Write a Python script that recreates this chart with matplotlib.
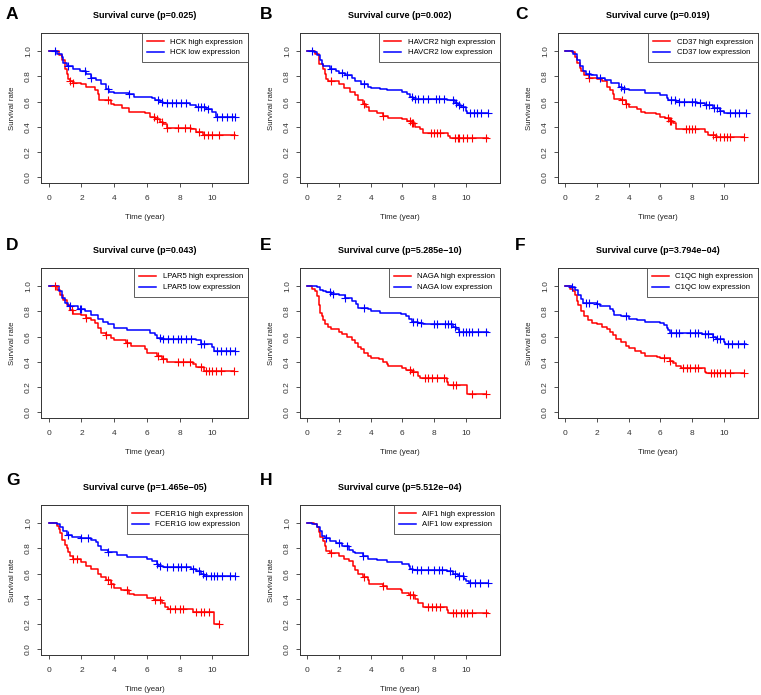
import numpy as np
import matplotlib.pyplot as plt

plt.rcParams['font.family'] = ['Liberation Sans', 'DejaVu Sans']

# ---- data ----
genes = ["HCK", "HAVCR2", "CD37", "LPAR5", "NAGA", "C1QC", "FCER1G", "AIF1"]
letters = ["A", "B", "C", "D", "E", "F", "G", "H"]
pvals = ["0.025", "0.002", "0.019", "0.043", "5.285e\u221210", "3.794e\u221204",
         "1.465e\u221205", "5.512e\u221204"]

# step curves: times of drops and level after each drop, last entry = end of follow-up
hck_hi_t = [0, 0.6, 0.8, 1.0, 1.1, 1.2, 1.3, 1.5, 2.0, 2.3, 2.8, 3.0, 3.1, 3.8, 4.0, 4.5, 4.9, 5.9, 6.2, 6.5, 6.8, 7.0, 7.2, 8.7, 9.0, 9.4, 11.4]
hck_hi_s = [1.0, 0.97, 0.93, 0.86, 0.82, 0.78, 0.76, 0.75, 0.74, 0.72, 0.69, 0.66, 0.61, 0.58, 0.57, 0.55, 0.52, 0.51, 0.48, 0.46, 0.44, 0.42, 0.39, 0.38, 0.36, 0.34, 0.34]
hck_hi_c = [1.3, 1.5, 3.6, 6.4, 6.6, 6.9, 7.2, 7.9, 8.3, 8.6, 9.2, 9.5, 9.7, 10.0, 10.4, 11.3]
hck_lo_t = [0, 0.5, 0.8, 0.9, 1.1, 1.5, 1.9, 2.3, 2.6, 2.9, 3.2, 3.5, 3.7, 4.0, 4.9, 5.2, 6.3, 6.5, 6.8, 7.0, 8.6, 9.0, 9.6, 10.0, 10.2, 11.4]
hck_lo_s = [1.0, 0.98, 0.95, 0.91, 0.88, 0.86, 0.84, 0.82, 0.79, 0.77, 0.74, 0.70, 0.68, 0.67, 0.66, 0.64, 0.63, 0.61, 0.60, 0.59, 0.57, 0.56, 0.54, 0.52, 0.48, 0.48]
hck_lo_c = [0.4, 1.2, 2.2, 2.6, 3.6, 4.9, 6.7, 6.9, 7.2, 7.5, 7.8, 8.1, 8.4, 9.1, 9.3, 9.5, 9.7, 10.3, 10.6, 10.9, 11.2, 11.4]

havcr2_hi_t = [0, 0.5, 0.7, 0.75, 1.0, 1.1, 1.2, 1.3, 2.0, 2.3, 2.7, 3.0, 3.2, 3.5, 3.7, 3.9, 4.4, 4.8, 5.1, 6.0, 6.3, 6.6, 6.8, 7.1, 7.3, 8.9, 9.0, 11.4]
havcr2_hi_s = [1.0, 0.98, 0.96, 0.90, 0.86, 0.82, 0.78, 0.76, 0.74, 0.71, 0.68, 0.65, 0.61, 0.58, 0.56, 0.53, 0.51, 0.49, 0.47, 0.46, 0.45, 0.43, 0.40, 0.38, 0.35, 0.33, 0.31, 0.31]
havcr2_hi_c = [1.5, 3.6, 4.8, 6.5, 6.6, 6.7, 7.8, 8.0, 8.2, 8.4, 9.3, 9.5, 9.6, 9.8, 10.1, 10.4, 11.3]
havcr2_lo_t = [0, 0.4, 0.6, 0.8, 0.9, 1.0, 1.4, 1.8, 2.0, 2.4, 2.8, 3.0, 3.4, 3.8, 4.0, 4.6, 5.0, 6.0, 6.3, 6.5, 6.7, 8.8, 9.3, 9.5, 9.7, 10.0, 10.1, 11.4]
havcr2_lo_s = [1.0, 0.99, 0.97, 0.93, 0.90, 0.88, 0.86, 0.84, 0.83, 0.81, 0.79, 0.76, 0.74, 0.72, 0.71, 0.70, 0.69, 0.68, 0.66, 0.64, 0.62, 0.61, 0.59, 0.57, 0.56, 0.53, 0.51, 0.51]
havcr2_lo_c = [0.3, 1.5, 2.2, 2.5, 3.6, 6.6, 6.8, 7.0, 7.3, 7.6, 8.1, 8.3, 8.6, 9.2, 9.4, 9.6, 9.8, 10.3, 10.5, 10.7, 11.0, 11.4]

cd37_hi_t = [0, 0.4, 0.6, 0.7, 0.9, 1.0, 1.2, 1.5, 2.0, 2.3, 2.6, 2.8, 3.0, 3.1, 3.5, 3.8, 4.0, 4.5, 4.8, 5.0, 5.7, 6.0, 6.3, 6.6, 6.8, 7.0, 8.8, 9.0, 9.5, 11.3]
cd37_hi_s = [1.0, 0.99, 0.95, 0.91, 0.87, 0.84, 0.81, 0.79, 0.78, 0.76, 0.72, 0.69, 0.66, 0.62, 0.61, 0.58, 0.56, 0.54, 0.52, 0.51, 0.50, 0.48, 0.47, 0.45, 0.43, 0.38, 0.36, 0.34, 0.32, 0.32]
cd37_hi_c = [1.5, 3.6, 3.8, 6.5, 6.6, 6.7, 7.6, 7.8, 8.0, 8.2, 9.3, 9.5, 9.8, 10.0, 10.2, 10.4, 11.3]
cd37_lo_t = [0, 0.5, 0.7, 0.9, 1.1, 1.3, 1.6, 2.0, 2.5, 2.9, 3.4, 3.6, 4.0, 5.0, 6.0, 6.4, 6.5, 7.0, 8.3, 8.8, 9.3, 9.8, 10.0, 11.4]
cd37_lo_s = [1.0, 0.98, 0.93, 0.88, 0.84, 0.82, 0.81, 0.79, 0.77, 0.75, 0.72, 0.70, 0.69, 0.67, 0.65, 0.63, 0.61, 0.60, 0.59, 0.57, 0.55, 0.53, 0.51, 0.51]
cd37_lo_c = [1.5, 2.2, 3.5, 3.7, 6.7, 6.9, 7.2, 7.5, 8.0, 8.2, 8.5, 8.9, 9.1, 9.4, 9.6, 9.8, 10.4, 10.7, 11.0, 11.4]

lpar5_hi_t = [0, 0.5, 0.7, 0.9, 1.1, 1.3, 1.5, 2.0, 2.3, 2.6, 2.8, 3.0, 3.2, 3.5, 3.8, 4.0, 4.7, 5.0, 5.9, 6.0, 6.6, 6.9, 7.2, 8.8, 9.0, 9.5, 11.3]
lpar5_hi_s = [1.0, 0.97, 0.93, 0.89, 0.85, 0.81, 0.78, 0.77, 0.75, 0.73, 0.71, 0.67, 0.63, 0.61, 0.59, 0.57, 0.55, 0.53, 0.50, 0.47, 0.45, 0.42, 0.40, 0.38, 0.36, 0.33, 0.33]
lpar5_hi_c = [0.4, 1.4, 2.3, 3.5, 4.8, 6.7, 7.0, 7.9, 8.2, 8.6, 9.3, 9.6, 9.8, 10.0, 10.2, 10.5, 11.3]
lpar5_lo_t = [0, 0.6, 0.8, 1.0, 1.2, 1.8, 2.2, 2.6, 3.0, 3.3, 3.6, 4.0, 4.8, 6.2, 6.5, 6.6, 7.0, 9.0, 9.3, 10.0, 10.1, 11.4]
lpar5_lo_s = [1.0, 0.96, 0.91, 0.87, 0.84, 0.82, 0.80, 0.77, 0.74, 0.72, 0.70, 0.67, 0.65, 0.63, 0.61, 0.59, 0.58, 0.57, 0.54, 0.52, 0.49, 0.49]
lpar5_lo_c = [1.3, 1.9, 2.0, 6.8, 7.0, 7.3, 7.6, 7.9, 8.1, 8.4, 8.7, 9.3, 9.5, 10.3, 10.5, 10.8, 11.1, 11.4]

naga_hi_t = [0, 0.3, 0.5, 0.6, 0.7, 0.8, 0.9, 1.0, 1.1, 1.3, 1.5, 2.0, 2.2, 2.5, 2.8, 3.0, 3.2, 3.4, 3.6, 3.8, 4.0, 4.5, 4.8, 5.0, 5.1, 6.0, 6.2, 6.6, 7.0, 7.1, 8.8, 8.9, 10.1, 11.3]
naga_hi_s = [1.0, 0.98, 0.96, 0.92, 0.85, 0.79, 0.76, 0.73, 0.70, 0.68, 0.66, 0.64, 0.62, 0.60, 0.57, 0.55, 0.52, 0.50, 0.47, 0.45, 0.43, 0.42, 0.40, 0.38, 0.37, 0.35, 0.34, 0.32, 0.29, 0.27, 0.24, 0.22, 0.15, 0.15]
naga_hi_c = [6.5, 6.7, 7.4, 7.6, 7.9, 8.2, 8.6, 9.2, 9.4, 10.4, 11.3]
naga_lo_t = [0, 0.6, 0.8, 1.0, 1.2, 1.5, 2.0, 2.4, 2.8, 3.1, 3.2, 3.8, 4.0, 4.6, 5.9, 6.2, 6.4, 6.6, 7.0, 7.3, 9.2, 9.4, 9.6, 11.4]
naga_lo_s = [1.0, 0.99, 0.97, 0.96, 0.95, 0.94, 0.93, 0.91, 0.88, 0.86, 0.83, 0.82, 0.80, 0.79, 0.78, 0.76, 0.74, 0.72, 0.71, 0.70, 0.68, 0.66, 0.64, 0.64]
naga_lo_c = [1.4, 1.6, 2.4, 3.6, 6.7, 6.9, 7.2, 8.0, 8.2, 8.7, 8.9, 9.1, 9.3, 9.6, 9.8, 10.0, 10.2, 10.4, 10.8, 11.3]

c1qc_hi_t = [0, 0.3, 0.5, 0.6, 0.7, 0.8, 1.0, 1.2, 1.4, 1.7, 2.0, 2.3, 2.6, 2.8, 3.0, 3.2, 3.5, 3.8, 4.0, 4.4, 4.8, 5.0, 5.8, 6.0, 6.6, 6.8, 7.0, 7.3, 8.8, 8.9, 11.3]
c1qc_hi_s = [1.0, 0.98, 0.96, 0.93, 0.88, 0.85, 0.80, 0.76, 0.73, 0.71, 0.70, 0.68, 0.66, 0.64, 0.61, 0.58, 0.56, 0.53, 0.51, 0.49, 0.47, 0.45, 0.44, 0.43, 0.41, 0.39, 0.37, 0.35, 0.32, 0.31, 0.31]
c1qc_hi_c = [6.2, 6.6, 7.4, 7.7, 7.9, 8.2, 8.4, 9.2, 9.4, 9.6, 9.8, 10.1, 10.4, 11.3]
c1qc_lo_t = [0, 0.4, 0.6, 0.8, 1.0, 1.1, 2.0, 2.2, 2.8, 3.0, 3.1, 3.5, 4.0, 4.5, 5.0, 6.0, 6.2, 6.4, 6.5, 6.6, 8.6, 9.3, 9.5, 10.0, 10.1, 11.4]
c1qc_lo_s = [1.0, 0.99, 0.97, 0.93, 0.90, 0.87, 0.86, 0.84, 0.82, 0.80, 0.77, 0.76, 0.74, 0.73, 0.72, 0.71, 0.69, 0.67, 0.65, 0.63, 0.62, 0.60, 0.58, 0.56, 0.54, 0.54]
c1qc_lo_c = [0.4, 1.3, 1.5, 2.0, 3.8, 6.7, 7.0, 7.2, 7.9, 8.2, 8.4, 8.8, 9.0, 9.3, 9.6, 9.8, 10.3, 10.5, 10.9, 11.3]

fcer1g_hi_t = [0, 0.5, 0.6, 0.7, 0.8, 1.0, 1.1, 1.2, 1.3, 1.5, 2.0, 2.3, 2.6, 3.0, 3.2, 3.5, 3.8, 4.0, 4.4, 4.9, 5.2, 6.0, 6.4, 6.9, 7.1, 7.3, 8.8, 10.1, 10.4]
fcer1g_hi_s = [1.0, 0.98, 0.95, 0.92, 0.87, 0.83, 0.80, 0.77, 0.74, 0.72, 0.69, 0.66, 0.64, 0.60, 0.57, 0.55, 0.52, 0.49, 0.47, 0.44, 0.43, 0.41, 0.39, 0.37, 0.34, 0.32, 0.30, 0.20, 0.20]
fcer1g_hi_c = [1.5, 1.7, 3.6, 3.8, 4.8, 6.5, 6.8, 7.4, 7.7, 8.0, 8.2, 9.0, 9.3, 9.5, 9.8, 10.4]
fcer1g_lo_t = [0, 0.5, 0.7, 0.9, 1.1, 1.4, 2.0, 2.6, 2.9, 3.0, 3.2, 3.6, 4.2, 4.8, 6.0, 6.3, 6.6, 6.7, 7.0, 8.7, 9.0, 9.3, 9.5, 11.4]
fcer1g_lo_s = [1.0, 0.99, 0.97, 0.94, 0.91, 0.89, 0.88, 0.87, 0.85, 0.82, 0.79, 0.77, 0.75, 0.73, 0.72, 0.70, 0.68, 0.66, 0.65, 0.64, 0.62, 0.60, 0.58, 0.58]
fcer1g_lo_c = [1.2, 2.0, 2.4, 3.6, 6.6, 6.8, 7.2, 7.6, 7.9, 8.1, 8.4, 8.8, 9.2, 9.4, 9.6, 9.9, 10.1, 10.3, 10.6, 11.1, 11.4]

aif1_hi_t = [0, 0.4, 0.6, 0.7, 0.8, 1.0, 1.1, 1.2, 1.4, 2.0, 2.3, 2.6, 2.9, 3.0, 3.2, 3.5, 3.8, 3.9, 4.8, 5.0, 5.9, 6.0, 6.4, 6.8, 7.0, 7.3, 8.8, 8.9, 11.4]
aif1_hi_s = [1.0, 0.99, 0.97, 0.93, 0.89, 0.86, 0.82, 0.78, 0.76, 0.74, 0.72, 0.70, 0.66, 0.63, 0.60, 0.57, 0.55, 0.52, 0.50, 0.48, 0.47, 0.45, 0.43, 0.40, 0.37, 0.34, 0.31, 0.29, 0.29]
aif1_hi_c = [1.5, 3.6, 4.8, 6.5, 6.7, 7.6, 7.9, 8.1, 8.4, 9.2, 9.4, 9.7, 9.9, 10.1, 10.4, 11.3]
aif1_lo_t = [0, 0.3, 0.6, 0.8, 0.9, 1.1, 1.4, 1.8, 2.2, 2.6, 2.9, 3.0, 3.5, 3.8, 4.4, 5.0, 6.0, 6.4, 6.5, 6.7, 8.8, 9.2, 9.5, 9.9, 10.0, 10.2, 11.4]
aif1_lo_s = [1.0, 0.99, 0.97, 0.94, 0.90, 0.88, 0.86, 0.84, 0.82, 0.79, 0.77, 0.76, 0.74, 0.72, 0.71, 0.69, 0.68, 0.66, 0.64, 0.63, 0.62, 0.60, 0.58, 0.56, 0.54, 0.53, 0.53]
aif1_lo_c = [1.2, 2.0, 2.5, 3.5, 6.6, 6.9, 7.2, 7.6, 8.0, 8.3, 8.5, 9.0, 9.3, 9.6, 9.8, 10.3, 10.6, 10.9, 11.4]

curves = [
    (hck_hi_t, hck_hi_s, hck_hi_c, hck_lo_t, hck_lo_s, hck_lo_c),
    (havcr2_hi_t, havcr2_hi_s, havcr2_hi_c, havcr2_lo_t, havcr2_lo_s, havcr2_lo_c),
    (cd37_hi_t, cd37_hi_s, cd37_hi_c, cd37_lo_t, cd37_lo_s, cd37_lo_c),
    (lpar5_hi_t, lpar5_hi_s, lpar5_hi_c, lpar5_lo_t, lpar5_lo_s, lpar5_lo_c),
    (naga_hi_t, naga_hi_s, naga_hi_c, naga_lo_t, naga_lo_s, naga_lo_c),
    (c1qc_hi_t, c1qc_hi_s, c1qc_hi_c, c1qc_lo_t, c1qc_lo_s, c1qc_lo_c),
    (fcer1g_hi_t, fcer1g_hi_s, fcer1g_hi_c, fcer1g_lo_t, fcer1g_lo_s, fcer1g_lo_c),
    (aif1_hi_t, aif1_hi_s, aif1_hi_c, aif1_lo_t, aif1_lo_s, aif1_lo_c),
]

# ---- layout (pixel boxes of each plot area) ----
W, H = 761, 695
col_x = [(41, 248), (300, 500), (558, 758)]
row_y = [(33, 183), (268, 418), (505, 655)]
letter_x = [6, 260, 515]
letter_y = [7, 238, 473]


def step_at(t, s, x):
    idx = np.searchsorted(np.asarray(t), x, side="right") - 1
    return np.asarray(s)[np.clip(idx, 0, len(s) - 1)]


fig = plt.figure(figsize=(W / 100, H / 100), dpi=100)

for i, gene in enumerate(genes):
    r, c = divmod(i, 3)
    x0, x1 = col_x[c]
    y0, y1 = row_y[r]
    ax = fig.add_axes([x0 / W, 1 - y1 / H, (x1 - x0) / W, (y1 - y0) / H])
    ht, hs, hc, lt, ls, lc = curves[i]

    ax.step(ht, hs, where="post", color="#FF0000", lw=1.1,
            label=f"{gene} high expression")
    ax.step(lt, ls, where="post", color="#0000FF", lw=1.1,
            label=f"{gene} low expression")
    ax.plot(hc, step_at(ht, hs, hc), ls="none", marker="+", ms=6,
            mew=0.8, color="#FF0000")
    ax.plot(lc, step_at(lt, ls, lc), ls="none", marker="+", ms=6,
            mew=0.8, color="#0000FF")

    ax.set_xlim(-0.47, 12.17)
    ax.set_ylim(-0.044, 1.144)
    ax.set_xticks(np.arange(0, 11, 2))
    ax.set_yticks(np.arange(0, 1.01, 0.2))
    ax.set_yticklabels([f"{v:.1f}" for v in np.arange(0, 1.01, 0.2)],
                       rotation=90, va="center")
    ax.tick_params(labelsize=6, length=3, width=0.6, colors="#333333")
    ax.tick_params(axis="x", pad=5.5)
    ax.tick_params(axis="y", pad=3.5)
    for sp in ax.spines.values():
        sp.set_linewidth(0.7)
        sp.set_color("#333333")
    ax.set_xlabel("Time (year)", fontsize=5.6, labelpad=9, color="#222222")
    ax.set_ylabel("Survival rate", fontsize=5.6, labelpad=6.5, color="#222222")
    ax.set_title(f"Survival curve (p={pvals[i]})", fontsize=6.5,
                 fontweight="bold", pad=10.5)

    leg = ax.legend(loc="upper right", fontsize=5.6, frameon=True,
                    fancybox=False, borderaxespad=0, handlelength=2.2,
                    borderpad=0.65, labelspacing=0.45, handletextpad=0.8)
    leg.get_frame().set_edgecolor("#333333")
    leg.get_frame().set_linewidth(0.7)

    fig.text(letter_x[c] / W, 1 - letter_y[r] / H, letters[i], fontsize=12.5,
             fontweight="bold", ha="left", va="top")

fig.savefig("out.png", dpi=100)
